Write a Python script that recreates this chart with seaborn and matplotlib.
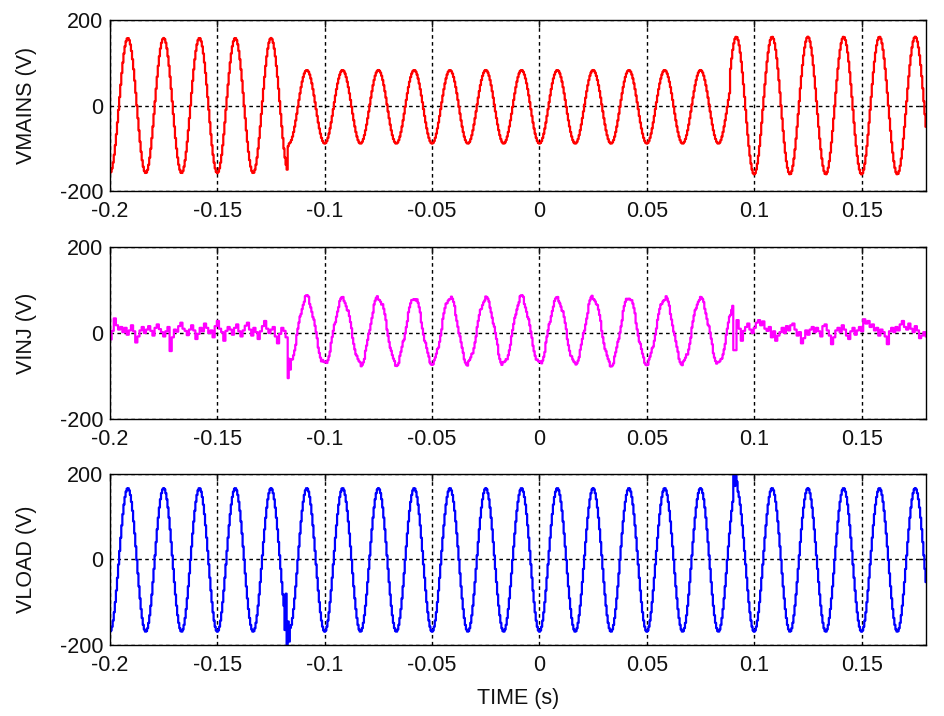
import numpy as np
import matplotlib
matplotlib.use("Agg")
import matplotlib.pyplot as plt
import seaborn as sns

# ---------------- data ----------------
FREQ_HZ = 60.0
T_START, T_END = -0.2, 0.18
SAMPLE_DT = 0.0005
NOISE_DT = 0.001

X_TICKS = [-0.2, -0.15, -0.1, -0.05, 0, 0.05, 0.1, 0.15]
X_TICK_LABELS = ["-0.2", "-0.15", "-0.1", "-0.05", "0", "0.05", "0.1", "0.15"]
Y_TICKS = [-200, 0, 200]
Y_TICK_LABELS = ["-200", "0", "200"]
PANEL_LABELS = ["VMAINS (V)", "VINJ (V)", "VLOAD (V)"]
PANEL_COLORS = ["#ff0000", "#ff00ff", "#0000ff"]
X_LABEL = "TIME (s)"

# segment boundaries (s), peak amplitude (V) and dc offset (V) per segment
VMAINS_BOUNDS = [-0.2, -0.1175, 0.0888, 0.18]
VMAINS_AMP = [158, 86, 161]
VMAINS_OFFSET = [0, -3, 0]

VINJ_BOUNDS = [-0.2, -0.1172, 0.0905, 0.18]
VINJ_AMP = [0, 77, 0]
VINJ_OFFSET = [0, 5, 0]

VLOAD_BOUNDS = [-0.2, 0.18]
VLOAD_AMP = [168]
VLOAD_OFFSET = [-1]

# VINJ residual ripple before the sag (every 1 ms from -0.200 s)
VINJ_NOISE_PRE_T0 = -0.2
VINJ_NOISE_PRE = [
    -15, 5, 34, 18, 8, 14, 2, 12, -4, 6,
    18, 4, -22, -8, 6, 14, 0, 8, 16, 5,
    -6, 12, 20, 9, 2, -8, 4, 14, -42, -10,
    8, 3, 16, 24, 10, 5, -5, 8, 18, 6,
    -14, -2, 12, 4, 22, 12, 0, 6, -10, 16,
    28, 10, 2, -18, 5, 14, 8, -4, 12, 20,
    4, -8, 6, 17, 24, 8, -6, 12, 2, -14,
    4, 16, 28, 10, 0, 8, 14, -8, -24, -2,
    12, 5, -10,
]
# VINJ residual ripple after the sag (every 1 ms from 0.091 s)
VINJ_NOISE_POST_T0 = 0.091
VINJ_NOISE_POST = [
    -40, 30, 10, -18, 5, 14, 22, 8, 0, 12,
    24, 30, 18, 27, 10, 5, 14, -10, 4, -18,
    -6, 2, 12, 0, 16, 6, 18, 22, 8, -6,
    2, -24, -12, 6, -4, 8, 14, 2, 12, 4,
    -8, 16, 20, 6, -6, -26, -10, 6, 12, 2,
    18, 8, -6, -14, 4, 12, -4, 6, 14, 4,
    32, 22, 28, 14, 20, 6, 12, -6, 8, 2,
    -8, -26, 4, 12, 2, 14, 6, 20, 28, 14,
    8, 22, 10, 2, 16, 6, -12, -6, 2, -8,
]
# small ripple riding on VINJ during the sag (every 2 ms)
VINJ_SAG_RIPPLE_DT = 0.002
VINJ_SAG_RIPPLE = [
    3, -4, 5, -2, 6, -5, 2, -6, 4, -3, 5, -4, 2, -5, 6, -2, 4, -6, 3, -3,
    5, -4, 6, -2, 3, -5, 4, -6, 2, -3, 6, -4, 5, -2, 3, -6, 4, -3, 5, -5,
    2, -4, 6, -3, 4, -5, 3, -2, 5, -6, 4, -4, 2, -3, 6, -5, 3, -2, 5, -4,
    6, -3, 2, -6, 4, -5, 3, -2, 5, -4, 6, -3, 4, -5, 2, -6, 3, -4, 5, -2,
    4, -6, 3, -3, 5, -4, 2, -5, 6, -2, 4, -3, 5, -6, 3, -4, 2, -5, 6, -3,
    4, -2, 5, -4, 3,
]

# switching transients (time s, value V)
VINJ_SPIKE_T = [-0.1170, -0.1165, -0.1160]
VINJ_SPIKE_V = [-105, -60, -85]
VMAINS_SPIKE_T = [-0.1175, -0.1170]
VMAINS_SPIKE_V = [-150, -95]
VLOAD_SPIKE_T = [-0.1185, -0.1180, -0.1175, -0.1170, -0.1165, -0.1160,
                 0.0905, 0.0910, 0.0915, 0.0920]
VLOAD_SPIKE_V = [-165, -80, -200, -145, -192, -160,
                 200, 172, 196, 182]


# ---------------- build sampled traces ----------------
n = int(round((T_END - T_START) / SAMPLE_DT)) + 1
t = np.round(T_START + np.arange(n) * SAMPLE_DT, 6)
carrier = -np.cos(2 * np.pi * FREQ_HZ * t)


def trace(bounds, amp, offset):
    seg = np.clip(np.searchsorted(bounds, t, side="right") - 1, 0, len(amp) - 1)
    return np.asarray(amp, float)[seg] * carrier + np.asarray(offset, float)[seg], seg


def apply_spikes(y, ts, vs):
    for ts_, v in zip(ts, vs):
        y[np.argmin(np.abs(t - ts_))] = v
    return y


def hold(values, t0, dt):
    v = np.asarray(values, float)
    idx = np.clip(np.floor((t - t0) / dt + 1e-9).astype(int), 0, len(v) - 1)
    return v[idx]


vmains, _ = trace(VMAINS_BOUNDS, VMAINS_AMP, VMAINS_OFFSET)
vmains = apply_spikes(vmains, VMAINS_SPIKE_T, VMAINS_SPIKE_V)

vinj, seg = trace(VINJ_BOUNDS, VINJ_AMP, VINJ_OFFSET)
vinj = np.where(seg == 1, vinj + hold(VINJ_SAG_RIPPLE, VINJ_BOUNDS[1], VINJ_SAG_RIPPLE_DT), vinj)
vinj = np.where(seg == 0, hold(VINJ_NOISE_PRE, VINJ_NOISE_PRE_T0, NOISE_DT), vinj)
vinj = np.where(seg == 2, hold(VINJ_NOISE_POST, VINJ_NOISE_POST_T0, NOISE_DT), vinj)
vinj = apply_spikes(vinj, VINJ_SPIKE_T, VINJ_SPIKE_V)

vload, _ = trace(VLOAD_BOUNDS, VLOAD_AMP, VLOAD_OFFSET)
vload = apply_spikes(vload, VLOAD_SPIKE_T, VLOAD_SPIKE_V)

series = [vmains, vinj, vload]

# ---------------- figure ----------------
sns.set_theme(style="white")
plt.rcParams["font.family"] = ["Liberation Sans", "DejaVu Sans"]
plt.rcParams["axes.axisbelow"] = True

fig = plt.figure(figsize=(9.45, 7.16), dpi=100)
positions = [
    [0.1164, 0.7332, 0.8635, 0.2388],
    [0.1164, 0.4148, 0.8635, 0.2402],
    [0.1164, 0.0992, 0.8635, 0.2388],
]
FS = 15.5
for pos, y, col, lab in zip(positions, series, PANEL_COLORS, PANEL_LABELS):
    ax = fig.add_axes(pos)
    sns.lineplot(x=t, y=y, ax=ax, color=col, linewidth=1.6,
                 drawstyle="steps-mid", estimator=None, sort=False, legend=False)
    ax.set_xlim(T_START, T_END)
    ax.set_ylim(-200, 200)
    ax.set_xticks(X_TICKS)
    ax.set_xticklabels(X_TICK_LABELS)
    ax.set_yticks(Y_TICKS)
    ax.set_yticklabels(Y_TICK_LABELS)
    ax.grid(True, color="black", linestyle=(0, (2.6, 2.4)), linewidth=1.0)
    ax.tick_params(direction="in", length=5, width=1.0, top=True, right=True,
                   labelsize=FS, colors="#111111", pad=5)
    ax.tick_params(axis="x", pad=7)
    for s in ax.spines.values():
        s.set_visible(True)
        s.set_color("black")
        s.set_linewidth(1.0)
    ax.set_ylabel(lab, fontsize=FS, color="#111111", labelpad=16)
    ax.set_xlabel("")
    last_ax = ax

last_ax.set_xlabel(X_LABEL, fontsize=FS, color="#111111", labelpad=9)

fig.savefig("out.png", dpi=100)
